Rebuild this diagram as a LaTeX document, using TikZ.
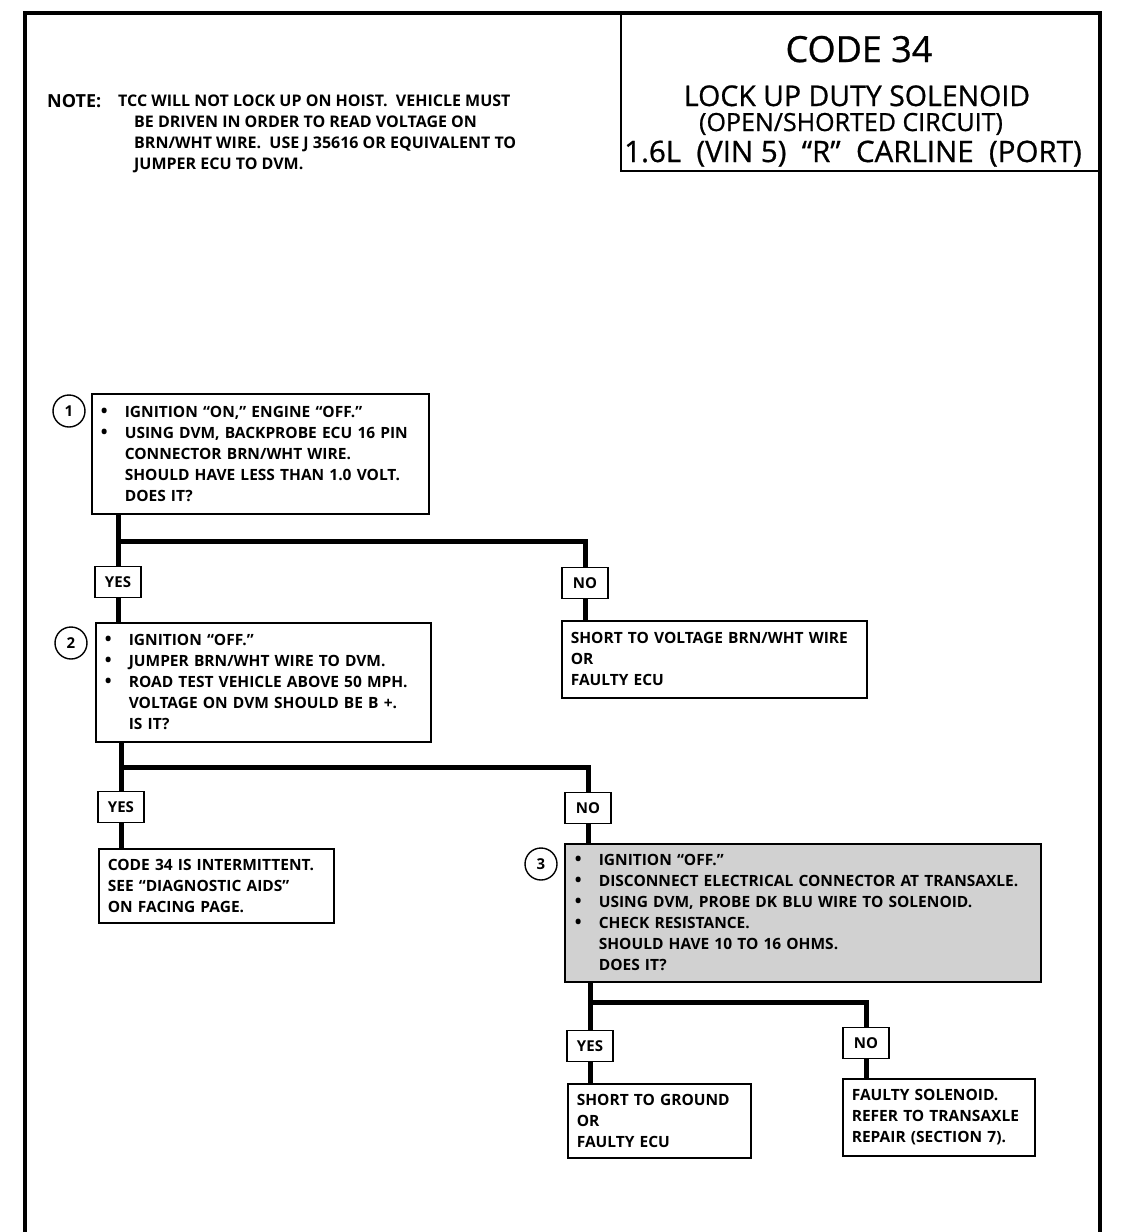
\documentclass[tikz,border=0pt]{standalone}
\usepackage{fontspec}
\setmainfont{Open Sans}
\newfontfamily\titlefont{Open Sans}[FakeBold=0.8]

\newcommand{\blt}{\makebox[24pt][l]{\fontsize{18}{0}\selectfont\textbullet}}
\newcommand{\ind}{\hspace*{24pt}}

\begin{document}
\begin{tikzpicture}[x=1pt, y=-1pt,
  every node/.append style={font=\bfseries\fontsize{15.5}{21}\selectfont},
  qbox/.style={draw, line width=1.6pt, anchor=north west, align=left, inner xsep=9pt, inner ysep=0pt},
  tag/.style={draw, line width=1.6pt, minimum width=46pt, minimum height=31pt, inner sep=0pt,
    font=\bfseries\fontsize{15}{15}\selectfont},
  num/.style={draw, circle, line width=1.4pt, minimum size=32pt, inner sep=0pt,
    font=\bfseries\fontsize{15}{15}\selectfont},
  flow/.style={line width=5pt}]
  \useasboundingbox (0,0) rectangle (1136,1232);

  % frame and title
  \draw[line width=3.5pt] (25,1232) -- (25,13) -- (1100,13) -- (1100,1232);
  \node[draw, line width=2pt, anchor=north west, minimum width=480pt, minimum height=157pt,
    inner sep=0pt] (TITLE) at (620,13) {};
  \node[anchor=base, font=\titlefont\fontsize{36}{36}\selectfont] (CODE) at (859,62) {CODE 34};
  \node[anchor=base, font=\titlefont\fontsize{28.5}{28}\selectfont] (SOL) at (857,106) {LOCK UP DUTY SOLENOID};
  \node[anchor=base, font=\titlefont\fontsize{25}{25}\selectfont] (CIRC) at (851,131) {(OPEN/SHORTED CIRCUIT)};
  \node[anchor=base, font=\titlefont\fontsize{29.5}{28}\selectfont] (CAR) at (853,162)
    {1.6L\ \ (VIN 5)\ \ “R”\ \ CARLINE\ \ (PORT)};

  % note
  \node[anchor=base west, inner sep=0pt, font=\bfseries\fontsize{18}{18}\selectfont] (NOTE) at (47,107) {NOTE:};
  \node[anchor=base west, inner sep=0pt, align=left, font=\bfseries\fontsize{16}{20.7}\selectfont] (NOTETXT) at (118,169)
    {TCC WILL NOT LOCK UP ON HOIST.\ \ VEHICLE MUST\\
     \hspace*{16pt}BE DRIVEN IN ORDER TO READ VOLTAGE ON\\
     \hspace*{16pt}BRN/WHT WIRE.\ \ USE J 35616 OR EQUIVALENT TO\\
     \hspace*{16pt}JUMPER ECU TO DVM.};

  % step 1
  \node[num] (S1) at (69,411) {1};
  \node[qbox, text width=319pt, minimum height=120pt] (Q1) at (91,393)
    {\blt IGNITION “ON,” ENGINE “OFF.”\\
     \blt USING DVM, BACKPROBE ECU 16 PIN\\
     \ind CONNECTOR BRN/WHT WIRE.\\
     \ind SHOULD HAVE LESS THAN 1.0 VOLT.\\
     \ind DOES IT?};
  \node[tag] (YES1) at (118,582) {YES};
  \node[tag] (NO1) at (585,583) {NO};
  \node[qbox, text width=287pt, minimum height=77pt] (A1) at (561,620)
    {SHORT TO VOLTAGE BRN/WHT WIRE\\
     OR\\
     FAULTY ECU};

  % step 2
  \node[num] (S2) at (71,643) {2};
  \node[qbox, text width=317pt, minimum height=119pt] (Q2) at (95,622)
    {\blt IGNITION “OFF.”\\
     \blt JUMPER BRN/WHT WIRE TO DVM.\\
     \blt ROAD TEST VEHICLE ABOVE 50 MPH.\\
     \ind VOLTAGE ON DVM SHOULD BE B +.\\
     \ind IS IT?};
  \node[tag] (YES2) at (121,807) {YES};
  \node[tag] (NO2) at (588,808) {NO};
  \node[qbox, text width=217pt, minimum height=74pt] (A2) at (98,848)
    {CODE 34 IS INTERMITTENT.\\
     SEE “DIAGNOSTIC AIDS”\\
     ON FACING PAGE.};

  % step 3
  \node[num] (S3) at (541,864) {3};
  \node[qbox, fill=black!18, text width=456pt, inner xsep=10pt, minimum height=138pt] (Q3) at (564,843)
    {\blt IGNITION “OFF.”\\
     \blt DISCONNECT ELECTRICAL CONNECTOR AT TRANSAXLE.\\
     \blt USING DVM, PROBE DK BLU WIRE TO SOLENOID.\\
     \blt CHECK RESISTANCE.\\
     \ind SHOULD HAVE 10 TO 16 OHMS.\\
     \ind DOES IT?};
  \node[tag] (YES3) at (590,1046) {YES};
  \node[tag] (NO3) at (866,1043) {NO};
  \node[qbox, text width=165pt, minimum height=74pt] (A3) at (567,1083)
    {SHORT TO GROUND\\
     OR\\
     FAULTY ECU};
  \node[qbox, text width=174pt, minimum height=77pt] (A4) at (842,1078)
    {FAULTY SOLENOID.\\
     REFER TO TRANSAXLE\\
     REPAIR (SECTION 7).};

  % connectors
  \coordinate (J1) at (118,541);
  \coordinate (J2) at (121,767);
  \coordinate (J3) at (590,1002);
  \draw[flow] (Q1.south -| YES1) -- (YES1.north);
  \draw[flow] (J1) -| (NO1.north);
  \draw[flow] (YES1.south) -- (Q2.north -| YES1);
  \draw[flow] (NO1.south) -- (A1.north -| NO1);
  \draw[flow] (Q2.south -| YES2) -- (YES2.north);
  \draw[flow] (J2) -| (NO2.north);
  \draw[flow] (YES2.south) -- (A2.north -| YES2);
  \draw[flow] (NO2.south) -- (Q3.north -| NO2);
  \draw[flow] (Q3.south -| YES3) -- (YES3.north);
  \draw[flow] (J3) -| (NO3.north);
  \draw[flow] (YES3.south) -- (A3.north -| YES3);
  \draw[flow] (NO3.south) -- (A4.north -| NO3);
\end{tikzpicture}
\end{document}
